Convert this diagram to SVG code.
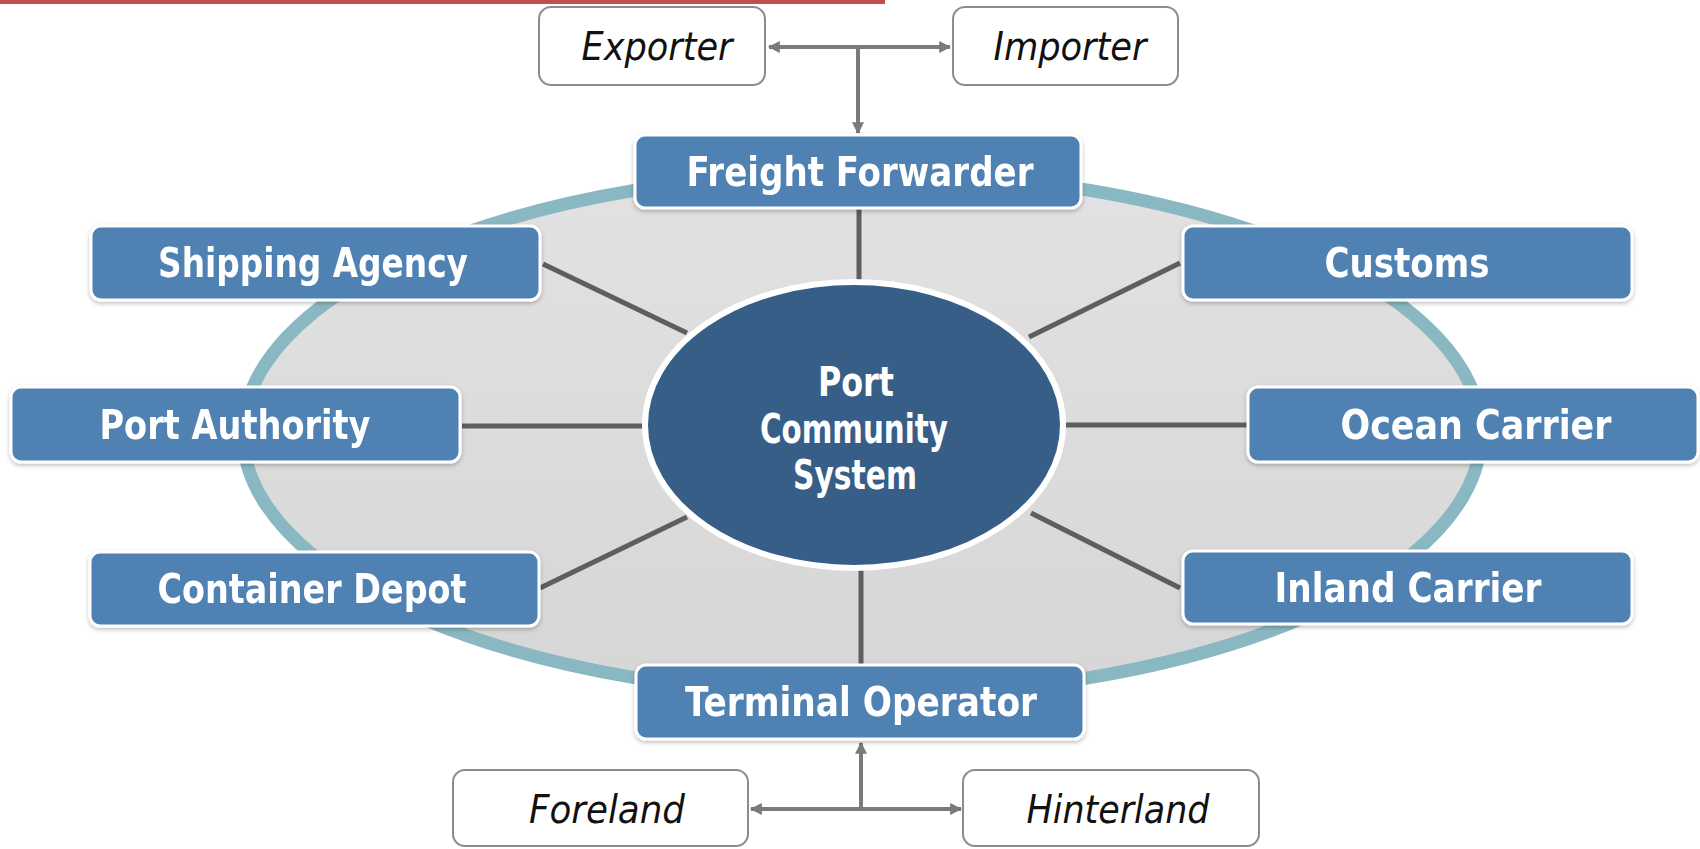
<svg xmlns="http://www.w3.org/2000/svg" width="1700" height="849" viewBox="0 0 1700 849">
<style>
.box{fill:#4f82b3;stroke:#ffffff;stroke-width:3}
.lbl{font-family:"Liberation Sans Narrow","DejaVu Sans Condensed","Liberation Sans",sans-serif;font-weight:bold;font-size:41px;fill:#ffffff;text-anchor:middle}
.wbox{fill:#ffffff;stroke:#8c8c8c;stroke-width:2}
.it{font-family:"DejaVu Sans Condensed","Liberation Sans Narrow","Liberation Sans",sans-serif;font-style:italic;font-size:39px;fill:#111111;text-anchor:middle}
.con{stroke:#5e5e5e;stroke-width:5;fill:none}
.arr{stroke:#7a7a7a;stroke-width:4;fill:none}
</style>
<defs>
<linearGradient id="bgGrad" x1="0" y1="0" x2="0" y2="1">
<stop offset="0" stop-color="#e2e2e2"/>
<stop offset="1" stop-color="#d6d6d6"/>
</linearGradient>
<filter id="sh" x="-5%" y="-10%" width="110%" height="130%">
<feDropShadow dx="0" dy="2" stdDeviation="2" flood-color="#000" flood-opacity="0.25"/>
</filter>
<marker id="ah" viewBox="0 0 10 10" refX="9" refY="5" markerWidth="12" markerHeight="12" markerUnits="userSpaceOnUse" orient="auto-start-reverse">
<path d="M0,0 L10,5 L0,10 z" fill="#7a7a7a"/>
</marker>
</defs>
<rect x="0" y="0" width="1700" height="849" fill="#ffffff"/>
<rect x="0" y="0" width="885" height="4" fill="#c0504d"/>
<ellipse id="ring" cx="862" cy="434" rx="619" ry="262" fill="url(#bgGrad)" stroke="#89b8c3" stroke-width="13"/>
<g id="connectors">
<line class="con" x1="859" y1="208" x2="859" y2="284"/>
<line class="con" x1="543" y1="264" x2="687" y2="333"/>
<line class="con" x1="1180" y1="263" x2="1029" y2="337"/>
<line class="con" x1="462" y1="426" x2="645" y2="426"/>
<line class="con" x1="1063" y1="425" x2="1248" y2="425"/>
<line class="con" x1="540" y1="588" x2="687" y2="517"/>
<line class="con" x1="1031" y1="513" x2="1180" y2="588"/>
<line class="con" x1="861" y1="568" x2="861" y2="665"/>
<line class="arr" x1="769" y1="47" x2="950" y2="47" marker-start="url(#ah)" marker-end="url(#ah)"/>
<line class="arr" x1="858" y1="47" x2="858" y2="133" marker-end="url(#ah)"/>
<line class="arr" x1="751" y1="809" x2="961" y2="809" marker-start="url(#ah)" marker-end="url(#ah)"/>
<line class="arr" x1="861" y1="809" x2="861" y2="743" marker-end="url(#ah)"/>
</g>
<g id="pcs">
<ellipse cx="854" cy="425" rx="209" ry="143" fill="#365e87" stroke="#ffffff" stroke-width="6"/>
<text class="lbl" x="856" y="396" textLength="76" lengthAdjust="spacingAndGlyphs">Port</text>
<text class="lbl" x="854" y="443" textLength="188" lengthAdjust="spacingAndGlyphs">Community</text>
<text class="lbl" x="855" y="489" textLength="124" lengthAdjust="spacingAndGlyphs">System</text>
</g>
<g id="freight-forwarder" filter="url(#sh)">
<rect class="box" x="635" y="135" width="446" height="73" rx="10"/>
<text class="lbl" x="860" y="186" textLength="347" lengthAdjust="spacingAndGlyphs">Freight Forwarder</text>
</g>
<g id="shipping-agency" filter="url(#sh)">
<rect class="box" x="91" y="226" width="449" height="74" rx="10"/>
<text class="lbl" x="313" y="277" textLength="310" lengthAdjust="spacingAndGlyphs">Shipping Agency</text>
</g>
<g id="customs" filter="url(#sh)">
<rect class="box" x="1183" y="226" width="449" height="74" rx="10"/>
<text class="lbl" x="1407" y="277" textLength="165" lengthAdjust="spacingAndGlyphs">Customs</text>
</g>
<g id="port-authority" filter="url(#sh)">
<rect class="box" x="11" y="387" width="449" height="75" rx="10"/>
<text class="lbl" x="235" y="439" textLength="271" lengthAdjust="spacingAndGlyphs">Port Authority</text>
</g>
<g id="ocean-carrier" filter="url(#sh)">
<rect class="box" x="1248" y="387" width="450" height="75" rx="10"/>
<text class="lbl" x="1476" y="439" textLength="271" lengthAdjust="spacingAndGlyphs">Ocean Carrier</text>
</g>
<g id="container-depot" filter="url(#sh)">
<rect class="box" x="90" y="552" width="449" height="74" rx="10"/>
<text class="lbl" x="312" y="603" textLength="309" lengthAdjust="spacingAndGlyphs">Container Depot</text>
</g>
<g id="inland-carrier" filter="url(#sh)">
<rect class="box" x="1183" y="551" width="449" height="73" rx="10"/>
<text class="lbl" x="1408" y="602" textLength="267" lengthAdjust="spacingAndGlyphs">Inland Carrier</text>
</g>
<g id="terminal-operator" filter="url(#sh)">
<rect class="box" x="636" y="665" width="448" height="74" rx="10"/>
<text class="lbl" x="861" y="716" textLength="352" lengthAdjust="spacingAndGlyphs">Terminal Operator</text>
</g>
<g id="exporter">
<rect class="wbox" x="539" y="7" width="226" height="78" rx="12"/>
<text class="it" x="657" y="60" textLength="151" lengthAdjust="spacingAndGlyphs">Exporter</text>
</g>
<g id="importer">
<rect class="wbox" x="953" y="7" width="225" height="78" rx="12"/>
<text class="it" x="1070" y="60" textLength="153" lengthAdjust="spacingAndGlyphs">Importer</text>
</g>
<g id="foreland">
<rect class="wbox" x="453" y="770" width="295" height="76" rx="12"/>
<text class="it" x="607" y="823" textLength="156" lengthAdjust="spacingAndGlyphs">Foreland</text>
</g>
<g id="hinterland">
<rect class="wbox" x="963" y="770" width="296" height="76" rx="12"/>
<text class="it" x="1118" y="823" textLength="183" lengthAdjust="spacingAndGlyphs">Hinterland</text>
</g>
</svg>
